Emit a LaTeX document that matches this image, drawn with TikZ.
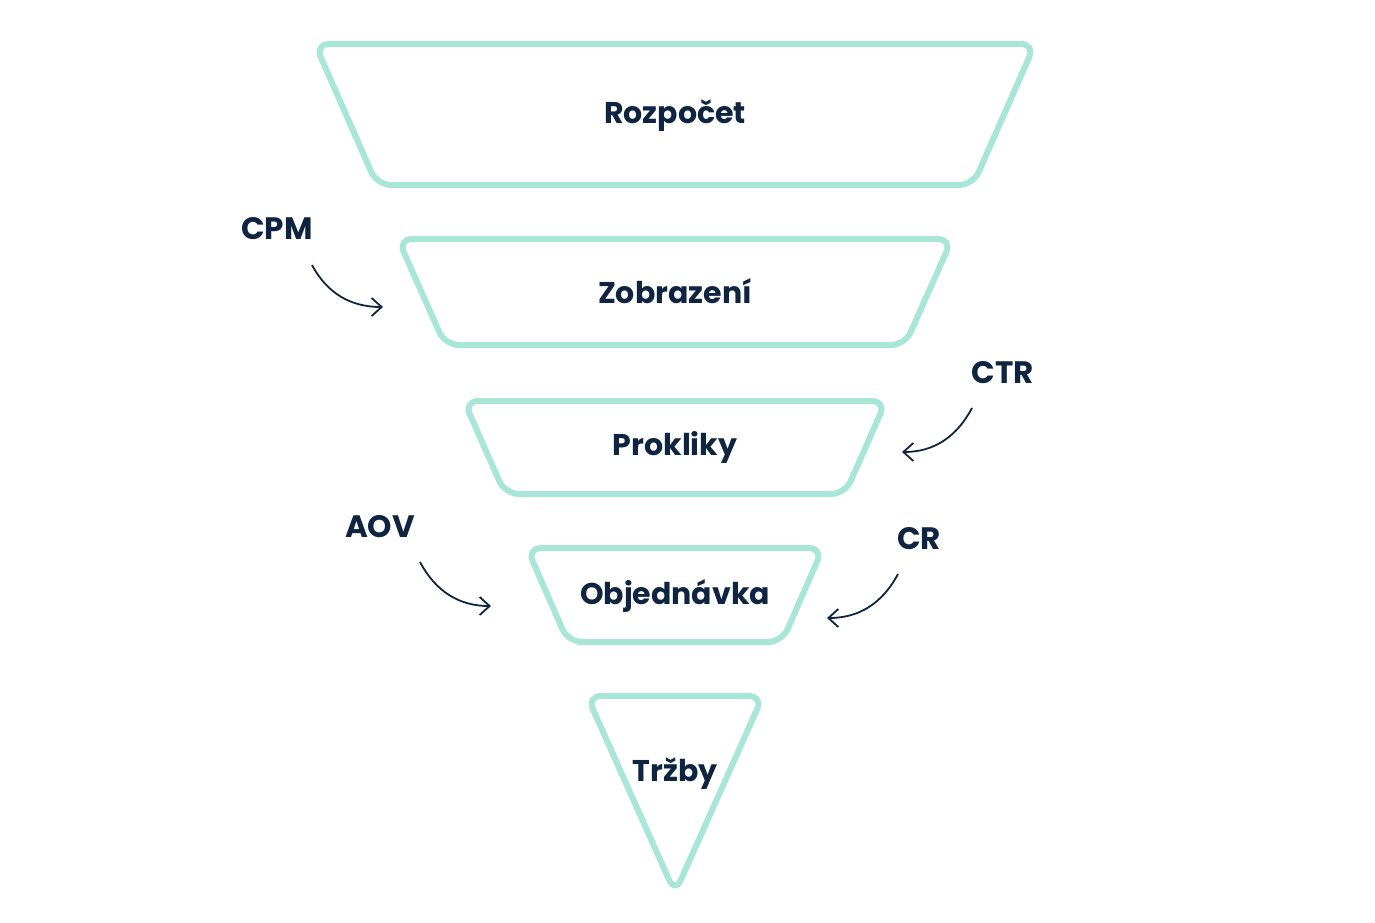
\documentclass[tikz,border=0pt]{standalone}
\usepackage{fontspec}
\setmainfont{Poppins}
\usetikzlibrary{arrows.meta}
\definecolor{mint}{HTML}{A8E6D8}
\definecolor{ink}{HTML}{0F2440}
\tikzset{
    stage/.style={draw=mint, line width=3pt, rounded corners=7pt, line join=round},
    stagetext/.style={text=ink, font=\bfseries\fontsize{15}{18}\selectfont},
    metric/.style={text=ink, font=\bfseries\fontsize{15.5}{18}\selectfont},
    hint/.style={draw=ink, line width=0.9pt, -{Straight Barb[length=5pt,width=9pt]}}
}
\begin{document}
\begin{tikzpicture}[x=0.5pt,y=0.5pt]
    \useasboundingbox (0,0) rectangle (1375,-922);

    % funnel
    \draw[stage] (315,-44) -- (1035,-44) -- (973,-185) -- (377,-185) -- cycle;
    \draw[stage] (398,-239) -- (952,-239) -- (905,-345) -- (445,-345) -- cycle;
    \draw[stage] (464,-401) -- (886,-401) -- (845,-494) -- (505,-494) -- cycle;
    \draw[stage] (527,-548) -- (823,-548) -- (782,-642) -- (568,-642) -- cycle;
    \draw[stage] (587,-696) -- (763,-696) -- (675,-893) -- cycle;

    \node[stagetext] (rozpocet) at (675,-116) {Rozpočet};
    \node[stagetext] (zobrazeni) at (675,-291) {Zobrazení};
    \node[stagetext] (prokliky) at (675,-447) {Prokliky};
    \node[stagetext] (objednavka) at (675,-596) {Objednávka};
    \node[stagetext] (trzby) at (675,-774) {Tržby};

    % metrics
    \node[metric] (cpm) at (277,-229) {CPM};
    \node[metric] (ctr) at (1003,-373) {CTR};
    \node[metric] (aov) at (380,-527) {AOV};
    \node[metric] (cr) at (919,-539) {CR};

    \coordinate (cpm-s) at (312,-265);
    \coordinate (cpm-e) at (383,-307);
    \coordinate (ctr-s) at (972,-408);
    \coordinate (ctr-e) at (902,-452);
    \coordinate (aov-s) at (420,-562);
    \coordinate (aov-e) at (491,-606);
    \coordinate (cr-s) at (898,-574);
    \coordinate (cr-e) at (827,-618);

    \draw[hint] (cpm-s) to[out=-62,in=180] (cpm-e);
    \draw[hint] (ctr-s) to[out=-118,in=0] (ctr-e);
    \draw[hint] (aov-s) to[out=-62,in=180] (aov-e);
    \draw[hint] (cr-s) to[out=-118,in=0] (cr-e);
\end{tikzpicture}
\end{document}
